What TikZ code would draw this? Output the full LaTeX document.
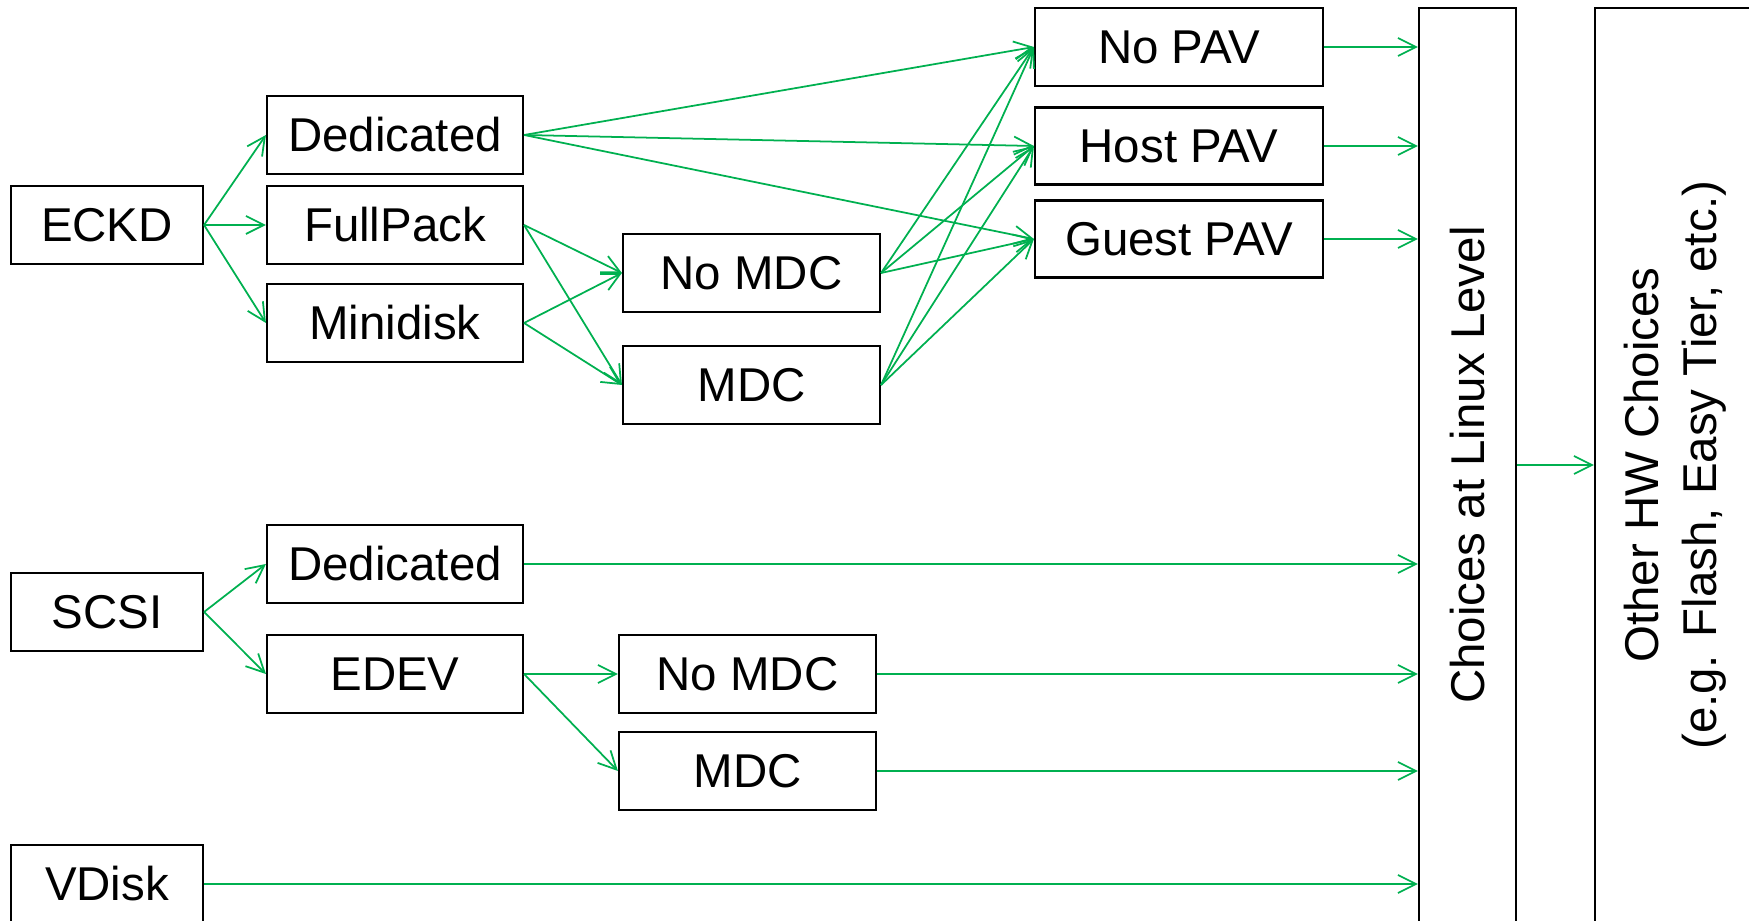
\documentclass[tikz,border=0pt]{standalone}
\usepackage{fontspec}
\setmainfont{Liberation Sans}
\definecolor{LinkGreen}{RGB}{0, 176, 80}
\usepackage{tikz}
\usetikzlibrary{arrows.meta, positioning, shapes, calc}

\begin{document}
\begin{tikzpicture}[
        font=\fontsize{13.5}{16.5}\selectfont,
        box/.style={draw, line width=0.6pt, inner sep=0pt, minimum height=0.78cm},
        link/.style={LinkGreen, line width=0.5pt, -{Straight Barb[length=1.8mm, width=1.8mm]}}
    ]
    \useasboundingbox (0,0) rectangle (17.49,9.21);
    \clip (0,0) rectangle (17.49,9.21);

    % Disk types
    \node[box, minimum width=1.92cm] (eckd) at (1.07,6.96) {ECKD};
    \node[box, minimum width=1.92cm] (scsi) at (1.07,3.09) {SCSI};
    \node[box, minimum width=1.92cm] (vdisk) at (1.07,0.37) {VDisk};

    % ECKD allocation
    \node[box, minimum width=2.56cm] (ded1) at (3.95,7.86) {Dedicated};
    \node[box, minimum width=2.56cm] (fullpack) at (3.95,6.96) {FullPack};
    \node[box, minimum width=2.56cm] (minidisk) at (3.95,5.98) {Minidisk};

    % SCSI allocation
    \node[box, minimum width=2.56cm] (ded2) at (3.95,3.57) {Dedicated};
    \node[box, minimum width=2.56cm] (edev) at (3.95,2.47) {EDEV};

    % Minidisk cache
    \node[box, minimum width=2.57cm] (nomdc1) at (7.515,6.48) {No MDC};
    \node[box, minimum width=2.57cm] (mdc1) at (7.515,5.36) {MDC};
    \node[box, minimum width=2.57cm] (nomdc2) at (7.475,2.47) {No MDC};
    \node[box, minimum width=2.57cm] (mdc2) at (7.475,1.50) {MDC};

    % PAV
    \node[box, minimum width=2.88cm] (nopav) at (11.79,8.74) {No PAV};
    \node[box, minimum width=2.88cm, minimum height=0.77cm] (hostpav) at (11.79,7.75) {Host PAV};
    \node[box, minimum width=2.88cm, minimum height=0.77cm] (guestpav) at (11.79,6.82) {Guest PAV};

    % Linux level and hardware
    \node[box, minimum width=0.97cm, minimum height=9.14cm] (choices) at (14.675,4.56) {};
    \node[rotate=90] (choicestext) at (choices.center) {Choices at Linux Level};
    \node[box, minimum width=1.6cm, minimum height=9.14cm] (other) at (16.75,4.56) {};
    \node[rotate=90, align=center] (othertext) at (other.center) {Other HW Choices\\(e.g. Flash, Easy Tier, etc.)};

    % ECKD paths
    \draw[link] (eckd.east) -- (ded1.west);
    \draw[link] (eckd.east) -- (fullpack.west);
    \draw[link] (eckd.east) -- (minidisk.west);
    \draw[link] (ded1.east) -- (nopav.west);
    \draw[link] (ded1.east) -- (hostpav.west);
    \draw[link] (ded1.east) -- (guestpav.west);
    \draw[link] (fullpack.east) -- (nomdc1.west);
    \draw[link] (fullpack.east) -- (mdc1.west);
    \draw[link] (minidisk.east) -- (nomdc1.west);
    \draw[link] (minidisk.east) -- (mdc1.west);
    \foreach \src in {nomdc1, mdc1}
        \foreach \dst in {nopav, hostpav, guestpav}
            \draw[link] (\src.east) -- (\dst.west);

    % SCSI paths
    \draw[link] (scsi.east) -- (ded2.west);
    \draw[link] (scsi.east) -- (edev.west);
    \draw[link] (edev.east) -- (nomdc2.west);
    \draw[link] (edev.east) -- (mdc2.west);

    % Into the Linux level
    \foreach \src in {nopav, hostpav, guestpav, ded2, nomdc2, mdc2, vdisk}
        \draw[link] (\src.east) -- (\src.east -| choices.west);
    \draw[link] (choices.east) -- (other.west);
\end{tikzpicture}
\end{document}
